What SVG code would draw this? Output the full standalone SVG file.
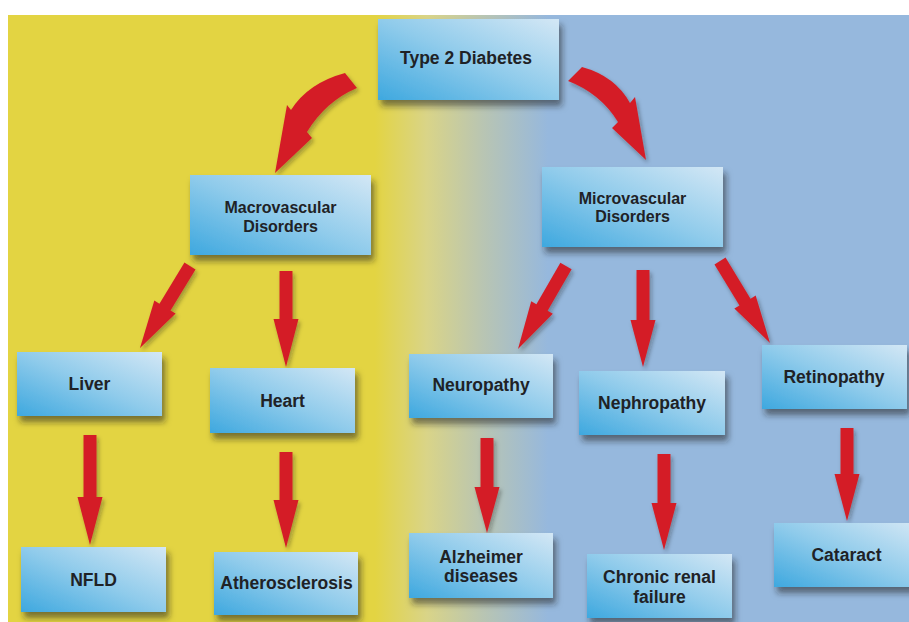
<svg xmlns="http://www.w3.org/2000/svg" width="909" height="622" viewBox="0 0 909 622">
<defs>
<linearGradient id="bg" gradientUnits="userSpaceOnUse" x1="375" y1="0" x2="548" y2="0">
<stop offset="0" stop-color="#e3d442"/>
<stop offset="0.3" stop-color="#d9d488"/>
<stop offset="0.62" stop-color="#b9c5b2"/>
<stop offset="1" stop-color="#96b8dd"/>
</linearGradient>
<linearGradient id="box" x1="0" y1="1" x2="1" y2="0">
<stop offset="0" stop-color="#3ea8df"/>
<stop offset="0.5" stop-color="#8fcbeb"/>
<stop offset="1" stop-color="#d3e7f5"/>
</linearGradient>
<filter id="sh" x="-20%" y="-20%" width="150%" height="160%">
<feDropShadow dx="3" dy="6" stdDeviation="3" flood-color="#1c1c1c" flood-opacity="0.55"/>
</filter>
<filter id="ash" x="-30%" y="-30%" width="160%" height="160%">
<feDropShadow dx="2" dy="3" stdDeviation="2" flood-color="#1c1c1c" flood-opacity="0.35"/>
</filter>
</defs>
<style>
.b{fill:url(#box);filter:url(#sh)}
.t{font-family:"Liberation Sans",Arial,sans-serif;font-weight:bold;font-size:17.5px;fill:#1f2226;text-anchor:middle}
.s{font-size:16px}
.a{fill:#d41f27;filter:url(#ash)}
</style>
<rect x="0" y="0" width="909" height="622" fill="#ffffff"/>
<rect x="8" y="15" width="901" height="607" fill="url(#bg)"/>

<g id="connectors">
<path class="a" d="M345,73 Q308,83 291,110 L287,105 L275,173 L312,138 L307,132 Q326,101 357,88 Z"/>
<path class="a" d="M582,67 Q615,76 630,103 L635,97 L646,160 L612,128 L618,122 Q600,93 568,81 Z"/>
<polygon class="a" points="184.45,262.62 159.44,303.64 154.32,300.51 140,348 175.66,313.53 170.54,310.4 195.55,269.38"/>
<polygon class="a" points="279.5,271 279.5,319 273.5,319 286,367 298.5,319 292.5,319 292.5,271"/>
<polygon class="a" points="83.5,435 83.5,497 77.5,497 90,545 102.5,497 96.5,497 96.5,435"/>
<polygon class="a" points="279.5,452 279.5,500 273.5,500 286,548 298.5,500 292.5,500 292.5,452"/>
<polygon class="a" points="560.37,262.75 536.4,304.2 531.21,301.19 518,349 552.85,313.71 547.66,310.7 571.63,269.25"/>
<polygon class="a" points="636.5,270 636.5,320 630.5,320 643,367 655.5,320 649.5,320 649.5,270"/>
<polygon class="a" points="714.45,264.38 739.46,305.4 734.34,308.53 770,343 755.68,295.51 750.56,298.64 725.55,257.62"/>
<polygon class="a" points="480.5,438 480.5,487 474.5,487 487,533 499.5,487 493.5,487 493.5,438"/>
<polygon class="a" points="657.5,454 657.5,503 651.5,503 664,550 676.5,503 670.5,503 670.5,454"/>
<polygon class="a" points="840.5,428 840.5,474 834.5,474 847,521 859.5,474 853.5,474 853.5,428"/>
</g>

<g id="type2"><rect class="b" x="378" y="19" width="181" height="81"/><text class="t" x="466" y="64">Type 2 Diabetes</text></g>
<g id="macro"><rect class="b" x="190" y="175" width="181" height="80"/><text class="t s" x="280.5" y="213">Macrovascular</text><text class="t s" x="280.5" y="231.5">Disorders</text></g>
<g id="micro"><rect class="b" x="542" y="167" width="181" height="80"/><text class="t s" x="632.5" y="203.5">Microvascular</text><text class="t s" x="632.5" y="222">Disorders</text></g>
<g id="liver"><rect class="b" x="17" y="352" width="145" height="64"/><text class="t" x="89.5" y="390">Liver</text></g>
<g id="heart"><rect class="b" x="210" y="368" width="145" height="65"/><text class="t" x="282.5" y="407">Heart</text></g>
<g id="nfld"><rect class="b" x="21" y="547" width="145" height="65"/><text class="t" x="93.5" y="586">NFLD</text></g>
<g id="athero"><rect class="b" x="214" y="552" width="144" height="63"/><text class="t" x="286.5" y="589">Atherosclerosis</text></g>
<g id="neuro"><rect class="b" x="409" y="354" width="144" height="64"/><text class="t" x="481" y="391">Neuropathy</text></g>
<g id="alz"><rect class="b" x="409" y="533" width="144" height="65"/><text class="t" x="481" y="562.5">Alzheimer</text><text class="t" x="481" y="581.5">diseases</text></g>
<g id="nephro"><rect class="b" x="579" y="371" width="146" height="64"/><text class="t" x="652" y="409">Nephropathy</text></g>
<g id="crf"><rect class="b" x="587" y="554" width="145" height="64"/><text class="t" x="659.5" y="583">Chronic renal</text><text class="t" x="659.5" y="603">failure</text></g>
<g id="retino"><rect class="b" x="762" y="345" width="145" height="64"/><text class="t" x="834" y="383">Retinopathy</text></g>
<g id="cataract"><rect class="b" x="774" y="523" width="145" height="64"/><text class="t" x="846.5" y="561">Cataract</text></g>
</svg>
